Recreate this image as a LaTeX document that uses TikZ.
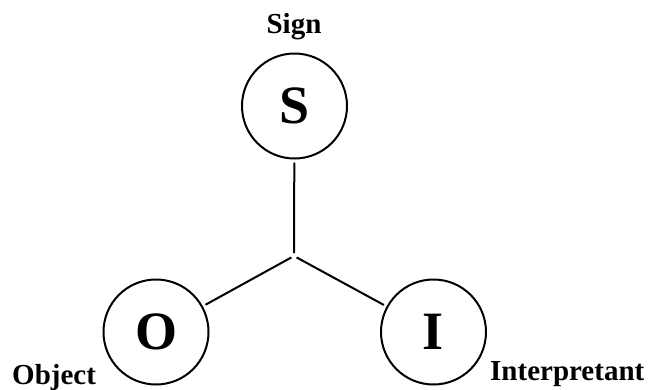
\documentclass[tikz,border=0pt]{standalone}
\usepackage{fontspec}
\setmainfont{Liberation Serif}
\begin{document}
\begin{tikzpicture}[x=1pt,y=-1pt,
  vertex/.style={circle,draw,line width=2pt,minimum size=105pt,inner sep=0pt,
    font=\fontsize{54}{54}\selectfont\bfseries},
  tag/.style={inner sep=0pt,font=\fontsize{29}{29}\selectfont\bfseries},
  link/.style={line width=2pt,shorten <=3pt,shorten >=3pt}]
\useasboundingbox (0,0) rectangle (648,389);
% the three corners of the sign relation
\node[vertex] (S) at (294.5,106) {S};
\node[vertex] (O) at (156,332) {O};
\node[vertex] (I) at (433.5,332) {I};
\coordinate (J) at (294,256);
% connectors meeting at the centre
\draw[link] (S) -- (J);
\draw[link] (J) -- (O);
\draw[link] (J) -- (I);
% labels
\node[tag,anchor=base] (sl) at (294,33) {Sign};
\node[tag,anchor=base west] (ol) at (12,384) {Object};
\node[tag,anchor=base west] (il) at (490,380) {Interpretant};
\end{tikzpicture}
\end{document}
